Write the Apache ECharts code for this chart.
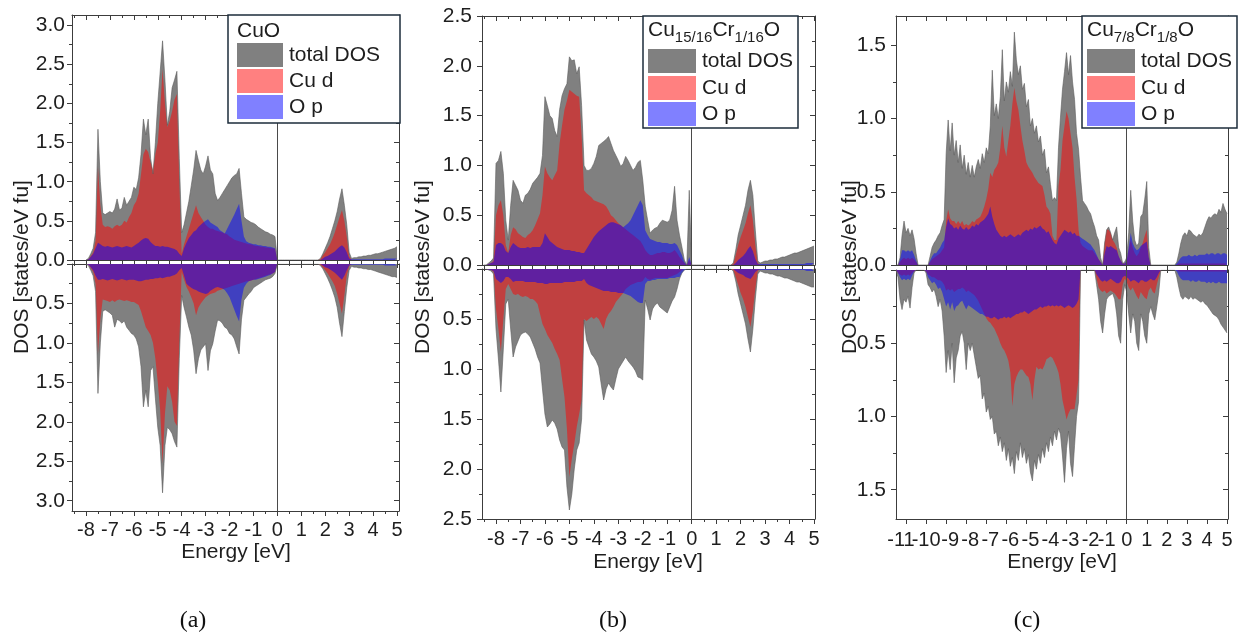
<!DOCTYPE html>
<html><head><meta charset="utf-8">
<script src="https://cdn.jsdelivr.net/npm/echarts@6/dist/echarts.min.js"></script>
<style>html,body{margin:0;padding:0;background:#fff}#c{width:1246px;height:637px}</style>
</head><body><div id="c"></div>
<script>
// ---------------- DATA ----------------
function energyGrid(a, b, step) { const out = []; const n = Math.round((b - a) / step); for (let i = 0; i <= n; i++) out.push(+(a + i * step).toFixed(2)); return out; }
const energyA = energyGrid(-8.0, 5.0, 0.1);
const energyB = energyGrid(-8.5, 5.0, 0.1);
const energyC = energyGrid(-11.5, 5.0, 0.1);

// Panel (a) CuO
const aTotUp = [0,.02,.08,.15,.35,1.67,1.0,.6,.58,.6, .62,.6,.65,.78,.64,.66,.8,.7,.75,.8, .93,.9,1.05,1.35,1.8,1.6,1.8,1.3,1.1,1.5, 2.0,2.4,2.8,2.3,1.72,1.9,2.2,2.3,2.41,1.3, .35,.45,.6,.75,.95,1.15,1.4,1.27,1.15,1.1, 1.2,1.33,1.15,1.1,.85,.76,.8,.85,.9,.95, 1.0,1.05,1.08,1.1,1.17,.85,.55,.52,.5,.48, .47,.45,.42,.4,.38,.36,.35,.33,.32,.3, 0,0,0,0,0,0,0,0,0,0, 0,0,0,0,0,0,0,0,.02,.08, .15,.22,.3,.4,.5,.62,.78,.91,.7,.45, .1,.02,.03,.03,.04,.04,.05,.05,.06,.06, .07,.08,.08,.09,.1,.11,.12,.13,.14,.15, .17];
const aCuUp = [0,.01,.05,.1,.25,1.19,.7,.45,.42,.43, .42,.4,.43,.45,.43,.45,.5,.48,.55,.6, .7,.75,.85,1.1,1.35,1.42,1.38,1.25,1.15,1.35, 1.5,1.9,2.44,2.0,1.7,1.78,1.9,2.05,2.12,1.0, .08,.2,.3,.4,.5,.6,.7,.6,.55,.5, .45,.42,.4,.4,.38,.37,.36,.35,.34,.33, .3,.28,.26,.25,.24,.23,.22,.21,.2,.2, .19,.18,.18,.17,.17,.16,.16,.15,.15,.14, 0,0,0,0,0,0,0,0,0,0, 0,0,0,0,0,0,0,0,.01,.06, .1,.15,.2,.27,.35,.45,.55,.64,.5,.3, .05,0,0,0,0,0,0,0,0,0, 0,0,0,0,0,0,0,0,0,0, 0];
const aOpUp = [0,.01,.04,.08,.15,.22,.2,.18,.17,.18, .17,.16,.17,.18,.17,.16,.17,.18,.17,.16, .18,.2,.22,.25,.27,.28,.27,.23,.2,.18, .18,.17,.18,.17,.17,.16,.15,.14,.12,.08, .05,.15,.22,.28,.32,.36,.38,.42,.45,.48, .5,.52,.48,.46,.44,.42,.38,.36,.34,.4, .46,.52,.58,.65,.72,.5,.3,.24,.22,.21, .2,.2,.19,.19,.18,.18,.17,.17,.16,.15, 0,0,0,0,0,0,0,0,0,0, 0,0,0,0,0,0,0,0,0,.02, .04,.05,.07,.09,.11,.14,.17,.19,.16,.1, .02,.01,.01,.01,.01,.01,.01,.01,.01,.01, .01,.01,.01,.01,.01,.02,.02,.02,.02,.02, .02];
const aTotDn = [0,.02,.08,.15,.35,1.64,1.0,.6,.58,.6, .62,.65,.8,.7,.72,.75,.72,.8,.84,.88, .9,.95,1.05,1.3,1.81,1.6,1.81,1.35,1.3,1.7, 2.07,2.3,2.9,2.3,2.07,2.1,2.15,2.25,2.32,1.2, .4,.55,.67,.8,.9,1.09,1.39,1.2,1.09,1.05, 1.01,1.35,1.1,1.01,.85,.71,.72,.75,.8,.82, .88,.9,.95,1.05,1.14,.7,.46,.42,.38,.35, .3,.28,.26,.24,.22,.2,.19,.18,.16,.12, 0,0,0,0,0,0,0,0,0,0, 0,0,0,0,0,0,0,0,.02,.06, .12,.18,.25,.33,.42,.55,.75,.92,.6,.3, .08,.03,.04,.04,.05,.05,.06,.06,.07,.07, .08,.09,.1,.11,.12,.13,.14,.15,.16,.16, .17];
const aCuDn = [0,.01,.05,.1,.25,1.14,.7,.45,.46,.47, .48,.46,.48,.46,.45,.46,.47,.46,.47,.48, .48,.5,.52,.6,.7,.8,.85,.9,1.0,1.2, 1.5,1.85,2.53,1.9,1.55,1.6,1.75,2.0,2.05,1.0, .1,.2,.29,.35,.42,.5,.65,.55,.5,.46, .42,.4,.38,.37,.36,.34,.33,.32,.31,.3, .29,.28,.27,.26,.25,.24,.23,.22,.22,.21, .2,.19,.18,.17,.16,.15,.14,.13,.12,.1, 0,0,0,0,0,0,0,0,0,0, 0,0,0,0,0,0,0,0,.01,.04, .08,.12,.17,.22,.28,.38,.5,.63,.4,.15, .03,0,0,0,0,0,0,0,0,0, 0,0,0,0,0,0,0,0,0,0, 0];
const aOpDn = [0,.01,.04,.08,.15,.2,.2,.19,.2,.21, .2,.19,.2,.21,.2,.19,.2,.21,.2,.2, .2,.21,.22,.22,.21,.2,.2,.19,.19,.18, .18,.17,.18,.17,.16,.16,.15,.14,.12,.08, .05,.15,.25,.28,.3,.32,.33,.35,.36,.37, .38,.37,.34,.32,.3,.29,.3,.31,.33,.37, .42,.5,.58,.66,.73,.45,.3,.25,.22,.21, .2,.2,.19,.18,.17,.16,.15,.14,.12,.1, 0,0,0,0,0,0,0,0,0,0, 0,0,0,0,0,0,0,0,0,.02, .04,.05,.07,.09,.11,.14,.17,.2,.15,.08, .02,.01,.01,.01,.01,.01,.01,.01,.01,.01, .01,.01,.01,.01,.01,.02,.02,.02,.02,.02, .02];

// Panel (b) Cu15/16Cr1/16O
const bTotUp = [0,0,.02,.04,.07,1.02,1.05,1.14,.92,.45, .25,.6,.85,.8,.75,.65,.62,.7,.72,.76, .82,.85,.88,.92,1.1,1.69,1.6,1.5,1.47,1.35, 1.29,1.56,1.7,1.77,1.82,2.09,2.05,2.06,1.92,1.99, 1.6,1.0,.95,.95,.97,1.02,1.09,1.2,1.22,1.24, 1.26,1.29,1.22,1.15,1.1,1.05,.99,1.02,1.09,1.05, 1.0,.95,.98,1.03,1.05,.85,.59,.45,.32,.35, .37,.38,.42,.45,.44,.43,.45,.55,.79,.45, .3,.18,.05,0,.75,0,0,0,0,0, 0,0,0,0,0,0,0,0,0,0, 0,0,.02,.15,.3,.4,.5,.6,.75,.85, .7,.35,.04,.02,.03,.04,.04,.05,.05,.06, .06,.07,.08,.08,.09,.1,.11,.12,.12,.13, .14,.15,.16,.17,.18,.19];
const bCuUp = [0,0,.01,.02,.04,.5,.6,.65,.5,.2, .12,.3,.38,.36,.32,.3,.28,.27,.3,.32, .35,.4,.46,.52,.7,.99,.92,.88,.85,.9, .95,1.22,1.4,1.56,1.65,1.76,1.74,1.72,1.7,1.69, 1.3,.75,.72,.7,.68,.65,.64,.63,.62,.61, .59,.55,.5,.48,.45,.42,.4,.38,.36,.34, .32,.3,.28,.26,.24,.2,.15,.12,.1,.1, .11,.12,.12,.13,.13,.12,.12,.13,.15,.12, .08,.05,.02,0,.05,0,0,0,0,0, 0,0,0,0,0,0,0,0,0,0, 0,0,.01,.1,.2,.28,.35,.42,.52,.6, .45,.2,.02,0,0,0,0,0,0,0, 0,0,0,0,0,0,0,0,0,0, 0,0,0,0,0,0];
const bOpUp = [0,0,.01,.02,.03,.2,.22,.22,.2,.14, .12,.18,.22,.2,.18,.17,.17,.17,.18,.17, .18,.18,.18,.18,.22,.32,.28,.24,.22,.2, .18,.17,.16,.15,.15,.15,.14,.14,.13,.13, .12,.12,.16,.2,.24,.28,.31,.34,.36,.38, .4,.42,.43,.43,.42,.41,.4,.38,.4,.42, .45,.5,.55,.6,.65,.6,.35,.3,.26,.25, .24,.23,.23,.22,.22,.22,.21,.21,.22,.2, .15,.1,.03,0,.08,0,0,0,0,0, 0,0,0,0,0,0,0,0,0,0, 0,0,0,.02,.05,.07,.09,.12,.16,.19, .14,.06,.01,.01,.01,.01,.01,.01,.01,.01, .01,.01,.01,.01,.01,.01,.01,.01,.01,.01, .01,.01,.02,.02,.02,.02];
const bTotDn = [0,0,.01,.02,.05,.6,.9,1.23,.8,.35, .3,.6,.88,.78,.72,.66,.64,.63,.65,.68, .74,.8,.88,.94,1.2,1.45,1.58,1.55,1.51,1.54, 1.6,1.71,1.78,1.81,2.18,2.41,2.25,2.0,1.81,1.74, 1.5,.51,.71,.78,.85,.88,.92,.98,1.15,1.31, 1.2,1.14,1.18,1.21,1.1,1.0,.96,.92,.88,.92, .95,.98,1.02,1.08,1.09,1.11,.31,.4,.51,.4, .36,.34,.38,.4,.42,.44,.38,.32,.28,.2, .1,.04,.01,0,0,0,0,0,0,0, 0,0,0,0,0,0,0,0,0,0, 0,0,.02,.12,.25,.35,.45,.55,.7,.83, .6,.3,.05,.02,.03,.04,.04,.05,.05,.06, .07,.07,.08,.09,.09,.1,.11,.12,.13,.13, .14,.15,.16,.17,.18,.18];
const bCuDn = [0,0,.01,.01,.03,.4,.6,.83,.5,.2, .15,.2,.25,.26,.25,.27,.28,.27,.28,.3, .3,.32,.35,.45,.55,.6,.66,.7,.74,.8, .85,.91,1.1,1.28,1.6,2.08,1.9,1.75,1.58,1.45, 1.31,.5,.52,.5,.48,.5,.48,.5,.55,.6, .5,.45,.42,.38,.33,.3,.27,.24,.2,.18, .16,.15,.14,.13,.13,.12,.08,.1,.11,.1, .09,.09,.09,.09,.09,.09,.08,.07,.06,.05, .03,.01,0,0,0,0,0,0,0,0, 0,0,0,0,0,0,0,0,0,0, 0,0,.01,.08,.16,.24,.3,.38,.48,.58, .42,.2,.02,0,0,0,0,0,0,0, 0,0,0,0,0,0,0,0,0,0, 0,0,0,0,0,0];
const bOpDn = [0,0,.01,.01,.02,.1,.12,.14,.12,.08, .08,.1,.13,.12,.12,.12,.12,.13,.13,.13, .13,.13,.14,.14,.14,.15,.15,.14,.14,.14, .14,.14,.14,.13,.13,.13,.13,.13,.12,.12, .12,.1,.14,.16,.17,.18,.19,.2,.21,.22, .22,.22,.23,.23,.23,.24,.24,.24,.25,.26, .27,.29,.31,.33,.34,.34,.15,.12,.12,.11, .11,.1,.1,.1,.1,.1,.09,.09,.09,.08, .08,.04,.01,0,0,0,0,0,0,0, 0,0,0,0,0,0,0,0,0,0, 0,0,0,.02,.04,.05,.06,.08,.09,.1, .07,.03,.01,.01,.01,.01,.01,.01,.01,.01, .01,.01,.01,.01,.01,.01,.01,.01,.01,.01, .01,.01,.02,.02,.02,.02];

// Panel (c) Cu7/8Cr1/8O
const cTotUp = [0,0,.05,.2,.3,.22,.25,.2,.24,.18, .08,0,0,0,0,0,0,.06,.12,.15, .17,.2,.22,.27,.31,.76,.99,.78,.97,.75, .85,.7,.82,.66,.75,.62,.7,.6,.68,.6, .67,.72,.66,.76,.7,.8,.76,.95,1.33,1.02, 1.1,1.0,1.15,1.47,1.12,1.25,1.18,1.32,1.22,1.59, 1.4,1.3,1.36,1.2,1.24,1.08,1.13,.95,1.0,.9, .95,.84,.88,.75,.79,.63,.67,.55,.44,.46, .44,.8,1.01,1.2,1.32,1.45,1.3,1.43,1.25,1.13, .9,.79,.6,.44,.42,.4,.37,.35,.3,.26, .2,.17,.05,0,.15,.24,.26,.22,.17,.22, .26,.12,.08,.01,.02,.05,.22,.51,.3,.17, .13,.15,.33,.35,.45,.57,.12,0,0,0, 0,0,0,0,0,0,0,0,0,0, .02,.08,.15,.2,.22,.2,.24,.23,.21,.2, .19,.21,.2,.22,.26,.3,.33,.32,.34,.35, .34,.38,.36,.42,.38,.35];
const cCuUp = [0,0,.02,.04,.05,.04,.05,.04,.05,.04, .02,0,0,0,0,0,0,.02,.04,.05, .06,.07,.08,.1,.12,.3,.38,.32,.3,.3, .28,.3,.28,.3,.27,.28,.27,.28,.3,.29, .31,.32,.33,.36,.4,.45,.52,.63,.6,.65, .67,.7,.8,.95,.8,.74,.85,.95,1.1,1.21, 1.12,1.06,.95,.85,.78,.7,.67,.65,.63,.6, .58,.56,.55,.54,.48,.4,.38,.35,.2,.17, .17,.54,.65,.85,.95,1.05,1.0,.9,.8,.6, .45,.24,.15,.13,.12,.11,.1,.1,.1,.08, .06,.04,.02,0,.15,.24,.24,.22,.17,.15, .12,.06,.03,.01,.01,.02,.1,.17,.12,.08, .06,.08,.12,.15,.2,.24,.05,0,0,0, 0,0,0,0,0,0,0,0,0,0, 0,.01,.01,.01,.01,.01,.01,.01,.01,.01, .01,.01,.01,.01,.01,.01,.01,.01,.01,.01, .01,.01,.01,.01,.01,.01];
const cOpUp = [0,0,.04,.1,.1,.09,.1,.09,.1,.07, .03,0,0,0,0,0,0,.03,.06,.08, .08,.1,.12,.15,.17,.26,.32,.28,.27,.25, .26,.24,.27,.25,.24,.26,.24,.25,.27,.26, .28,.27,.29,.3,.31,.33,.35,.4,.33,.28, .24,.22,.2,.19,.2,.19,.2,.21,.2,.19, .2,.21,.2,.22,.23,.24,.23,.25,.24,.26, .25,.26,.27,.25,.24,.22,.23,.2,.17,.15, .14,.18,.2,.22,.24,.23,.22,.23,.21,.22, .2,.2,.19,.18,.17,.16,.15,.14,.12,.1, .07,.04,.02,0,.08,.13,.12,.13,.12,.11, .1,.06,.03,.01,.01,.03,.12,.22,.15,.12, .1,.11,.13,.14,.15,.16,.05,0,0,0, 0,0,0,0,0,0,0,0,0,0, .01,.03,.05,.06,.06,.06,.07,.06,.06,.07, .06,.07,.07,.07,.07,.08,.07,.08,.08,.07, .08,.08,.07,.08,.08,.07];
const cTotDn = [0,.05,.2,.27,.2,.22,.18,.26,.12,.02, 0,0,0,0,0,.02,.1,.12,.15,.13, .18,.25,.2,.28,.45,.7,.55,.68,.5,.77, .6,.55,.45,.42,.5,.68,.5,.55,.5,.58, .66,.74,.72,.88,.84,.97,.93,1.02,1.0,1.12, 1.1,1.2,1.14,1.24,1.18,1.3,1.22,1.34,1.28,1.39, 1.24,1.3,1.18,1.28,1.22,1.32,1.26,1.38,1.44,1.3, 1.36,1.26,1.32,1.22,1.28,1.18,1.24,1.14,1.2,1.1, 1.16,1.08,1.12,1.27,1.45,1.22,1.1,1.32,1.41,1.2, 1.0,.9,0,0,0,0,0,0,0,0, .1,.2,.35,.43,.3,.2,.18,.17,.16,.2, .3,.45,.5,.2,.1,.15,.3,.43,.3,.35, .5,.55,.3,.35,.45,.5,.3,.25,.3,.34, .25,.15,0,0,0,0,0,0,0,0, .05,.12,.18,.2,.18,.19,.2,.18,.2,.19, .2,.21,.22,.21,.23,.24,.26,.28,.3,.31, .32,.34,.37,.39,.41,.43];
const cCuDn = [0,.02,.03,.04,.03,.04,.03,.04,.02,.01, 0,0,0,0,0,.01,.03,.04,.05,.05, .06,.07,.07,.08,.1,.14,.13,.14,.13,.15, .14,.13,.13,.12,.13,.15,.14,.15,.16,.17, .19,.21,.24,.27,.3,.33,.35,.36,.38,.4, .43,.46,.5,.53,.55,.58,.62,.7,.93,.78, .73,.7,.68,.68,.7,.72,.73,.78,.89,.75, .66,.68,.67,.68,.65,.61,.6,.59,.6,.63, .66,.7,.78,.89,.95,1.02,.98,.95,.95,.95, .85,.75,0,0,0,0,0,0,0,0, .06,.12,.14,.15,.14,.16,.15,.14,.15,.16, .18,.2,.2,.1,.06,.08,.12,.14,.12,.15, .18,.2,.15,.17,.19,.2,.14,.12,.15,.16, .1,.05,0,0,0,0,0,0,0,0, 0,.01,.01,.01,.01,.01,.01,.01,.01,.01, .01,.01,.01,.01,.01,.01,.01,.01,.01,.01, .01,.01,.01,.01,.01,.01];
const cOpDn = [0,.02,.05,.07,.06,.07,.06,.07,.04,.01, 0,0,0,0,0,.01,.05,.07,.09,.08, .1,.13,.12,.15,.2,.25,.22,.27,.22,.28, .25,.24,.22,.21,.24,.27,.24,.25,.26,.27, .28,.29,.3,.3,.31,.32,.32,.33,.33,.32, .33,.34,.33,.33,.32,.33,.32,.33,.32,.31, .3,.3,.29,.29,.28,.29,.3,.29,.28,.27, .27,.26,.25,.26,.25,.25,.24,.25,.24,.25, .24,.25,.24,.25,.26,.25,.24,.25,.26,.25, .23,.2,0,0,0,0,0,0,0,0, .03,.05,.07,.08,.07,.08,.07,.06,.07,.08, .09,.09,.08,.05,.04,.05,.06,.08,.07,.07, .08,.09,.07,.07,.08,.08,.07,.06,.07,.07, .05,.02,0,0,0,0,0,0,0,0, .01,.04,.06,.07,.07,.07,.07,.08,.07,.08, .08,.07,.08,.08,.08,.09,.08,.09,.08,.09, .09,.08,.09,.09,.09,.09];

// Tick labels
const xTicksAB = [-8,-7,-6,-5,-4,-3,-2,-1,0,1,2,3,4,5];
const xTicksC = [-11,-10,-9,-8,-7,-6,-5,-4,-3,-2,-1,0,1,2,3,4,5];
const yTicksA = [0,0.5,1.0,1.5,2.0,2.5,3.0];
const yTicksB = [0,0.5,1.0,1.5,2.0,2.5];
const yTicksC = [0,0.5,1.0,1.5];
const seriesNames = ['total DOS', 'Cu d', 'O p'];
const panelTitles = [[['CuO',0]], [['Cu',0],['15/16',1],['Cr',0],['1/16',1],['O',0]], [['Cu',0],['7/8',1],['Cr',0],['1/8',1],['O',0]]];
const panelTags = ['(a)', '(b)', '(c)'];

// ---------------- CHART ----------------
const checks = [[energyA,[aTotUp,aCuUp,aOpUp,aTotDn,aCuDn,aOpDn]],[energyB,[bTotUp,bCuUp,bOpUp,bTotDn,bCuDn,bOpDn]],[energyC,[cTotUp,cCuUp,cOpUp,cTotDn,cCuDn,cOpDn]]];
checks.forEach(([E, arrs], pi) => arrs.forEach((a, ai) => { if (a.length !== E.length) throw new Error('length mismatch panel ' + pi + ' array ' + ai + ': ' + a.length + ' vs ' + E.length); }));

const FONT = '"Liberation Sans", Arial, Helvetica, sans-serif';
const AXC = '#3c3c3c';
const TXT = '#1e1e1e';
const FILLS = ['#808080', 'rgba(255,0,0,0.5)', 'rgba(0,0,255,0.5)'];
const SWATCH = ['#808080', '#ff8080', '#8080ff'];

function halves(list) { const o = []; for (let i = 0; i < list.length - 1; i++) o.push((list[i] + list[i + 1]) / 2); return o; }
function yMinors(max) { const o = []; for (let v = 0.25; v < max; v += 0.5) o.push(+v.toFixed(2)); return o; }

// label groups: the crowded labels of panel (c) are split over separate label axes so none is dropped
const panels = [
  { E: energyA, up: [aTotUp, aCuUp, aOpUp], dn: [aTotDn, aCuDn, aOpDn], left: 72, width: 327, xMin: -8.585, xMax: 5.084,
    xMaj: xTicksAB, xLabGroups: [{ v: xTicksAB }], xMin2: [-8.5].concat(halves(xTicksAB)), upTop: 15, upH: 245, dnTop: 264, dnH: 247, yMax: 3.13, yMaj: yTicksA,
    xLM: 9, yLM: 7 },
  { E: energyB, up: [bTotUp, bCuUp, bOpUp], dn: [bTotDn, bCuDn, bOpDn], left: 482, width: 333, xMin: -8.572, xMax: 5.04,
    xMaj: xTicksAB, xLabGroups: [{ v: xTicksAB }], xMin2: [-8.5].concat(halves(xTicksAB)), upTop: 16, upH: 249, dnTop: 269, dnH: 250, yMax: 2.5, yMaj: yTicksB,
    xLM: 10, yLM: 10 },
  { E: energyC, up: [cTotUp, cCuUp, cOpUp], dn: [cTotDn, cCuDn, cOpDn], left: 896, width: 332, xMin: -11.5, xMax: 5.05,
    xMaj: xTicksC,
    xLabGroups: [{ v: [-11], padding: [0, 10, 0, 0] }, { v: [-10] },
                 { v: [-9, -7, -5, -3], padding: [0, 0, 0, 8] }, { v: [-8, -6, -4, -2], padding: [0, 0, 0, 8] },
                 { v: [-1] }, { v: xTicksC.filter(t => t >= 0) }],
    xMin2: [], upTop: 16, upH: 249, dnTop: 270, dnH: 249, yMax: 1.7, yMaj: yTicksC,
    xLM: 11, yLM: 10 }
];

const grids = [], xAxes = [], yAxes = [], series = [];

function axis(gridIndex, position, min, max, o) {
  const lab = o.labels ? { show: true, customValues: o.labels, formatter: o.fmt, margin: o.margin, fontSize: o.fs || 20, fontFamily: FONT, color: TXT,
      hideOverlap: false, showMinLabel: true, showMaxLabel: true } : { show: false };
  if (o.align) lab.align = o.align;
  if (o.padding) lab.padding = o.padding;
  return {
    type: 'value', gridIndex, position, min, max, inverse: !!o.inverse,
    axisLine: { show: !!o.line, onZero: false, lineStyle: { color: AXC, width: 1 } },
    axisTick: o.ticks ? { show: true, inside: !!o.inside, length: o.len, customValues: o.ticks, lineStyle: { color: AXC, width: 1 } } : { show: false },
    axisLabel: lab,
    splitLine: { show: false }, minorTick: { show: false }, silent: true
  };
}
const fx = v => String(Math.round(v));
const fy = v => (+v).toFixed(1);

panels.forEach((p, pi) => {
  ['up', 'dn'].forEach(half => {
    const gi = grids.length;
    const isUp = half === 'up';
    grids.push({ left: p.left, top: isUp ? p.upTop : p.dnTop, width: p.width, height: isUp ? p.upH : p.dnH, containLabel: false, outerBoundsMode: 'none' });
    const xi = xAxes.length, yi = yAxes.length;
    const yMin2 = yMinors(p.yMax);
    if (isUp) {
      xAxes.push(axis(gi, 'bottom', p.xMin, p.xMax, { line: true, ticks: p.xMaj, len: 8 }));
      if (p.xMin2.length) xAxes.push(axis(gi, 'bottom', p.xMin, p.xMax, { ticks: p.xMin2, len: 6 }));
      xAxes.push(axis(gi, 'top', p.xMin, p.xMax, { line: true, ticks: p.xMaj, inside: true, len: 5 }));
      if (p.xMin2.length) xAxes.push(axis(gi, 'top', p.xMin, p.xMax, { ticks: p.xMin2, inside: true, len: 3 }));
    } else {
      const g0 = p.xLabGroups[0];
      xAxes.push(axis(gi, 'bottom', p.xMin, p.xMax, { line: true, ticks: p.xMaj, len: 5, labels: g0.v, align: g0.align, padding: g0.padding, fmt: fx, margin: p.xLM }));
      p.xLabGroups.slice(1).forEach(g => xAxes.push(axis(gi, 'bottom', p.xMin, p.xMax, { labels: g.v, align: g.align, padding: g.padding, fmt: fx, margin: p.xLM })));
      if (p.xMin2.length) xAxes.push(axis(gi, 'bottom', p.xMin, p.xMax, { ticks: p.xMin2, len: 3 }));
      xAxes.push(axis(gi, 'top', p.xMin, p.xMax, { line: true }));
    }
    const inv = !isUp;
    const labs = isUp ? p.yMaj : p.yMaj.filter(v => v > 0);
    yAxes.push(axis(gi, 'left', 0, p.yMax, { inverse: inv, line: true, ticks: p.yMaj, len: 5, labels: labs, fmt: fy, margin: p.yLM, fs: 21 }));
    yAxes.push(axis(gi, 'left', 0, p.yMax, { inverse: inv, ticks: yMin2, len: 3 }));
    yAxes.push(axis(gi, 'right', 0, p.yMax, { inverse: inv, line: true, ticks: p.yMaj, inside: true, len: 5 }));
    yAxes.push(axis(gi, 'right', 0, p.yMax, { inverse: inv, ticks: yMin2, inside: true, len: 3 }));

    const vals = isUp ? p.up : p.dn;
    vals.forEach((arr, si) => {
      const s = {
        type: 'line', name: seriesNames[si], xAxisIndex: xi, yAxisIndex: yi,
        data: p.E.map((e, i) => [e, arr[i]]),
        showSymbol: false, symbol: 'none', smooth: false, silent: true, animation: false,
        lineStyle: si === 0 ? { width: 0.6, color: '#5c5c5c' } : { width: 0, opacity: 0 },
        areaStyle: { color: FILLS[si], opacity: 1 },
        z: 2
      };
      if (si === 0) {
        s.markLine = { silent: true, symbol: ['none', 'none'], label: { show: false }, animation: false,
          lineStyle: { color: '#4a4a4a', width: 1, type: 'solid' }, data: [{ xAxis: 0 }] };
      }
      series.push(s);
    });
  });
});

// ---------- graphics: legends, axis titles, panel tags ----------
const mctx = document.createElement('canvas').getContext('2d');
function tw(t, size) { mctx.font = size + 'px ' + FONT; return mctx.measureText(t).width; }
const graphics = [];
function txt(x, y, text, size, extra) {
  return Object.assign({ type: 'text', x, y, z: 100, silent: true,
    style: { text, fontSize: size, fontFamily: FONT, fill: TXT, align: 'left', verticalAlign: 'middle' } }, extra || {});
}
const legendGeo = [
  { bx: 228, by: 15, bw: 172, bh: 108, sx: 237, sw: 46, sy: [43, 69, 95], sh: 24, tx: 289, ty: 31 },
  { bx: 643, by: 16, bw: 155, bh: 112, sx: 648, sw: 48, sy: [49, 76, 102], sh: 24, tx: 702, ty: 30 },
  { bx: 1082, by: 16, bw: 155, bh: 112, sx: 1087, sw: 48, sy: [49, 76, 102], sh: 24, tx: 1141, ty: 30 }
];
legendGeo.forEach((g, pi) => {
  graphics.push({ type: 'rect', z: 99, silent: true, shape: { x: g.bx, y: g.by, width: g.bw, height: g.bh },
    style: { fill: '#ffffff', stroke: '#1d2c3b', lineWidth: 1.5 } });
  let cx = g.sx;
  panelTitles[pi].forEach(([t, sub]) => {
    const size = sub ? 15 : 21;
    graphics.push(txt(cx, sub ? g.ty + 8 : g.ty, t, size));
    cx += tw(t, size);
  });
  seriesNames.forEach((n, si) => {
    graphics.push({ type: 'rect', z: 100, silent: true, shape: { x: g.sx, y: g.sy[si], width: g.sw, height: g.sh },
      style: { fill: SWATCH[si] } });
    graphics.push(txt(g.tx, g.sy[si] + g.sh / 2, n, 21));
  });
});
const yTitleX = [22, 423, 850];
const eTitle = [[236, 552], [648, 562], [1062, 562]];
const tagX = [193, 613, 1027];
panels.forEach((p, pi) => {
  graphics.push(txt(yTitleX[pi], 267, 'DOS [states/eV fu]', 21, { rotation: Math.PI / 2 }));
  graphics[graphics.length - 1].style.align = 'center';
  graphics.push(txt(eTitle[pi][0], eTitle[pi][1], 'Energy [eV]', 21));
  graphics[graphics.length - 1].style.align = 'center';
  graphics.push({ type: 'text', x: tagX[pi], y: 621, z: 100, silent: true,
    style: { text: panelTags[pi], fontSize: 24, fontFamily: '"Liberation Serif", "Times New Roman", serif', fill: '#111', align: 'center', verticalAlign: 'middle' } });
});

const chart = echarts.init(document.getElementById('c'), null, { renderer: 'canvas', width: 1246, height: 637 });
chart.setOption({
  backgroundColor: '#ffffff',
  animation: false,
  grid: grids, xAxis: xAxes, yAxis: yAxes, series,
  graphic: { elements: graphics }
});
</script></body></html>
